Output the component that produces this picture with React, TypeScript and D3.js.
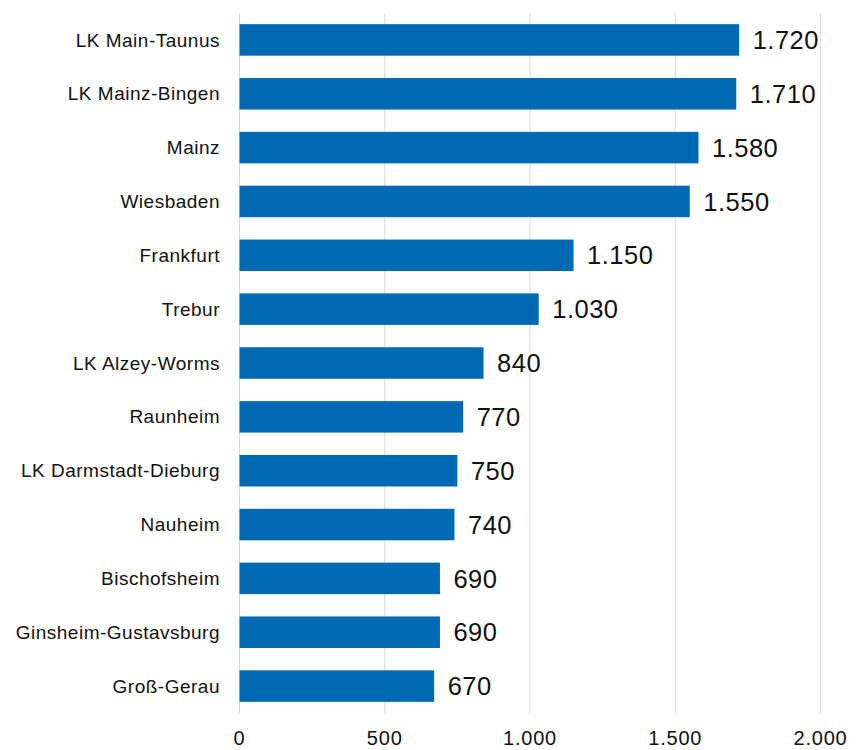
import React from "react";
import * as d3 from "d3";

const categories = [
  "LK Main-Taunus",
  "LK Mainz-Bingen",
  "Mainz",
  "Wiesbaden",
  "Frankfurt",
  "Trebur",
  "LK Alzey-Worms",
  "Raunheim",
  "LK Darmstadt-Dieburg",
  "Nauheim",
  "Bischofsheim",
  "Ginsheim-Gustavsburg",
  "Groß-Gerau",
];
const values = [1720, 1710, 1580, 1550, 1150, 1030, 840, 770, 750, 740, 690, 690, 670];
const ticks = [0, 500, 1000, 1500, 2000];

const fmt = (v: number) => d3.format(",")(v).replace(/,/g, ".");

export default function App() {
  const W = 867;
  const H = 750;
  const x = d3.scaleLinear().domain([0, 2000]).range([239, 820]);
  const y = d3
    .scaleBand<string>()
    .domain(categories)
    .range([13, 713])
    .paddingInner(0.415)
    .paddingOuter(0.2075);
  const font = "'Liberation Sans', Arial, sans-serif";
  return (
    <svg
      width={W}
      height={H}
      style={{ position: "absolute", left: 0, top: 0, background: "#fff" }}
    >
      {ticks.map((t) => (
        <line
          key={"g" + t}
          x1={x(t) + 0.5}
          x2={x(t) + 0.5}
          y1={13}
          y2={713}
          stroke="#d9d9d9"
          strokeWidth={1}
        />
      ))}
      {categories.map((c, i) => (
        <g key={c}>
          <rect
            x={x(0) + 0.5}
            y={y(c)!}
            width={x(values[i]) - x(0)}
            height={y.bandwidth()}
            fill="#0069b4"
          />
          <text
            x={220}
            y={y(c)! + y.bandwidth() / 2}
            dy="0.35em"
            textAnchor="end"
            fontFamily={font}
            fontSize={19}
            letterSpacing={0.5}
            fill="#111"
          >
            {c}
          </text>
          <text
            x={x(values[i]) + 14}
            y={y(c)! + y.bandwidth() / 2}
            dy="0.36em"
            textAnchor="start"
            fontFamily={font}
            fontSize={25.5}
            letterSpacing={0.5}
            fill="#111"
          >
            {fmt(values[i])}
          </text>
        </g>
      ))}
      {ticks.map((t) => (
        <text
          key={"t" + t}
          x={x(t) + 0.5}
          y={745}
          textAnchor="middle"
          fontFamily={font}
          fontSize={20}
          letterSpacing={0.8}
          fill="#111"
        >
          {fmt(t)}
        </text>
      ))}
    </svg>
  );
}
